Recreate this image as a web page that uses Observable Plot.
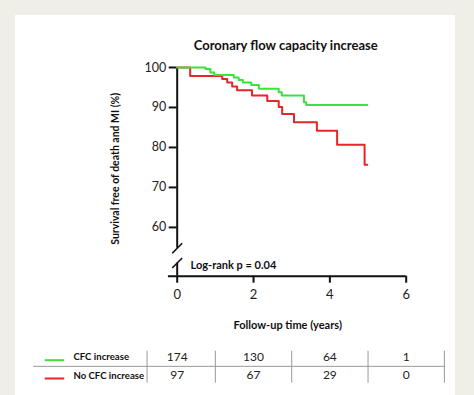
<!DOCTYPE html>
<html>
<head>
<meta charset="utf-8">
<script src="https://cdn.jsdelivr.net/npm/d3@7"></script>
<script src="https://cdn.jsdelivr.net/npm/@observablehq/plot@0.6"></script>
<style>
  html, body { margin: 0; padding: 0; background: #f0efe7; }
  #wrap { position: relative; width: 474px; height: 395px; overflow: hidden; }
  #panel { position: absolute; left: 15px; top: 15px; width: 440px; height: 380px; background: #ffffff; }
  #main { position: absolute; left: 0; top: 0; }
  #table { position: absolute; left: 0; top: 340px; }
  svg { background: transparent !important; }
</style>
</head>
<body>
<div id="wrap">
  <div id="panel"></div>
  <div id="main"></div>
  <div id="table"></div>
</div>
<script>
// ---- data ----
const title = "Coronary flow capacity increase";
const yLabel = "Survival free of death and MI (%)";
const xLabel = "Follow-up time (years)";
const pValueText = "Log-rank p = 0.04";
const seriesNames = ["CFC increase", "No CFC increase"];
const seriesColors = ["#3ee03c", "#e8252a"];

const greenTimes  = [0, 0.74, 0.87, 0.97, 1.48, 1.61, 1.72, 1.94, 2.14, 2.66, 2.74, 3.32, 3.38, 4.98];
const greenValues = [100, 99.6, 98.75, 98.1, 97.5, 96.9, 96.25, 95.6, 94.7, 93.8, 93.0, 91.3, 90.6, 90.6];

const redTimes  = [0, 0.34, 1.18, 1.31, 1.44, 1.57, 1.96, 2.36, 2.66, 2.75, 3.06, 3.66, 4.19, 4.91, 4.98];
const redValues = [100, 97.9, 97.1, 96.25, 95.25, 94.3, 93.0, 91.6, 90.1, 88.4, 86.3, 84.2, 80.7, 75.7, 75.7];

const xTicks = [0, 2, 4, 6];
const yTicks = [60, 70, 80, 90, 100];

const atRiskTimes = [0, 2, 4, 6];
const atRiskGreen = [174, 130, 64, 1];
const atRiskRed   = [97, 67, 29, 0];

// ---- layout constants ----
const W = 474;
const yMin = 47.8, yMax = 100;
const breakUpper = 54.8, breakLower = 51.1;
const font = "Lato, 'Open Sans', sans-serif";

// red first so that green is drawn on top where they overlap
const curve = [
  ...redTimes.map((t, i) => ({t, v: redValues[i], s: seriesNames[1]})),
  ...greenTimes.map((t, i) => ({t, v: greenValues[i], s: seriesNames[0]}))
];

const main = Plot.plot({
  width: W,
  height: 340,
  marginTop: 67,
  marginBottom: 64.3,
  marginLeft: 176.7,
  marginRight: W - 405.7,
  style: {fontFamily: font, color: "#111", background: "transparent"},
  x: {domain: [0, 6]},
  y: {domain: [yMin, yMax]},
  color: {domain: seriesNames, range: seriesColors},
  marks: [
    // axis lines with break
    Plot.ruleX([0], {y1: breakUpper, y2: yMax, stroke: "#111", strokeWidth: 2}),
    Plot.ruleX([0], {y1: yMin, y2: breakLower, stroke: "#111", strokeWidth: 2}),
    Plot.link([breakUpper, breakLower], {x1: -0.13, x2: 0.13, y1: d => d - 1.25, y2: d => d + 1.25, stroke: "#111", strokeWidth: 1.6}),
    Plot.ruleY([yMin], {x1: -0.23, x2: 6, stroke: "#111", strokeWidth: 2}),
    Plot.axisY({ticks: yTicks, tickSize: 8, tickPadding: 3, strokeWidth: 2, fontSize: 12.5, label: null, fill: "#222", tickFormat: "d"}),
    Plot.axisX({ticks: xTicks, tickSize: 7, tickPadding: 7, strokeWidth: 2, fontSize: 13, label: null, fill: "#222", tickFormat: "d"}),
    // curves
    Plot.line(curve, {x: "t", y: "v", z: "s", stroke: "s", strokeWidth: 2, curve: "step-after"}),
    // texts
    Plot.text([pValueText], {x: 0.35, y: 50.5, text: d => d, textAnchor: "start", fontSize: 11, fontWeight: "bold", fill: "#111"}),
    Plot.text([title], {frameAnchor: "top", dx: -6, dy: -27, text: d => d, fontSize: 13, fontWeight: "bold", fill: "#111"}),
    Plot.text([yLabel], {frameAnchor: "left", textAnchor: "middle", dx: -62, dy: -3, rotate: -90, text: d => d, fontSize: 10.5, fontWeight: "bold", fill: "#111"}),
    Plot.text([xLabel], {frameAnchor: "bottom", dx: -4, dy: 53, text: d => d, fontSize: 11, fontWeight: "bold", fill: "#111"})
  ]
});
document.getElementById("main").appendChild(main);

// ---- at-risk table ----
const rows = [
  ...atRiskTimes.map((t, i) => ({t, r: 0, n: atRiskGreen[i]})),
  ...atRiskTimes.map((t, i) => ({t, r: 1, n: atRiskRed[i]}))
];
const rowLabels = seriesNames.map((s, i) => ({s, r: i}));
const dividers = [-0.79, 1, 3, 5, 7];

const table = Plot.plot({
  width: W,
  height: 55,
  marginTop: 16.7,
  marginBottom: 55 - 35,
  marginLeft: 176.7,
  marginRight: W - 405.7,
  style: {fontFamily: font, color: "#111", background: "transparent"},
  x: {domain: [0, 6], axis: null},
  y: {domain: [0, 1], reverse: true, axis: null},
  color: {domain: seriesNames, range: seriesColors},
  marks: [
    Plot.ruleY([0.5], {x1: -3.76, x2: 7.03, stroke: "#9a9a9a", strokeWidth: 1}),
    Plot.ruleX(dividers, {y1: -0.33, y2: 1.42, stroke: "#9a9a9a", strokeWidth: 1}),
    Plot.link(rowLabels, {x1: -3.47, x2: -2.96, y1: "r", y2: "r", dy: 3, stroke: "s", strokeWidth: 2}),
    Plot.text(rowLabels, {x: -2.72, y: "r", text: "s", textAnchor: "start", fontSize: 9.6, fontWeight: "bold", fill: "#111"}),
    Plot.text(rows, {x: "t", y: "r", text: "n", fontSize: 12, fill: "#222"})
  ]
});
document.getElementById("table").appendChild(table);
</script>
</body>
</html>
